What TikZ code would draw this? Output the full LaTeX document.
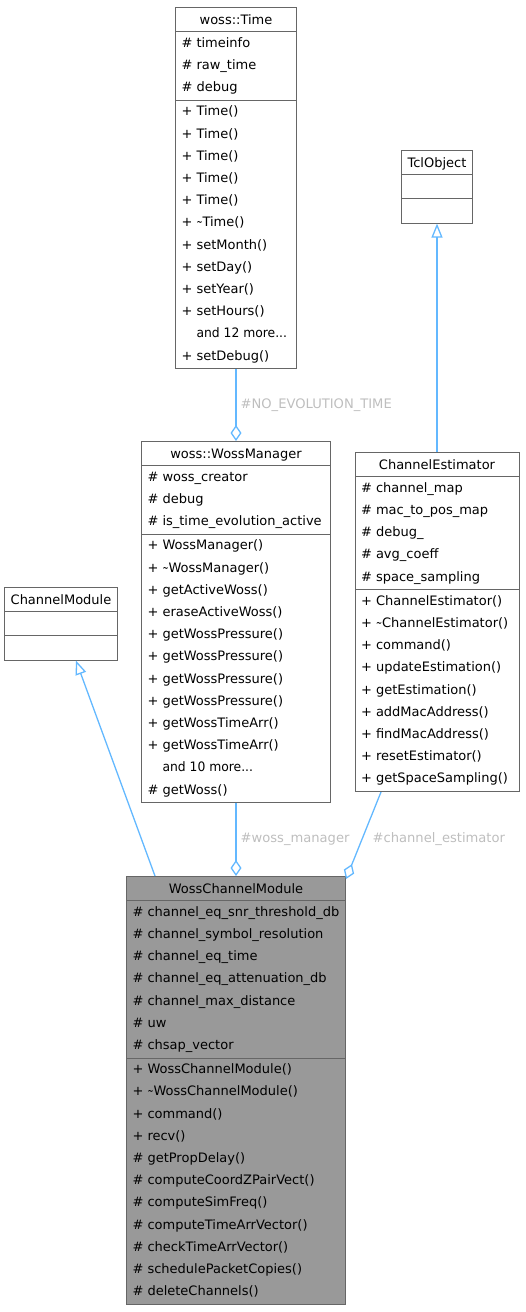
\documentclass[tikz,border=0pt]{standalone}
\usepackage{fontspec}
\usepackage{graphicx}
\setmainfont{DejaVu Sans}
\usetikzlibrary{shapes.multipart,arrows.meta}

\definecolor{edgeblue}{HTML}{63B8FF}
\definecolor{boxgray}{HTML}{666666}
\definecolor{labelgray}{HTML}{BEBEBE}
\definecolor{focusgray}{HTML}{999999}

\newcommand{\rs}{\rule[-7.7pt]{0pt}{22.2pt}}
\newcommand{\tld}{\scalebox{0.55}[1]{\textasciitilde}}
\newcommand{\prot}[1]{\rs\#~#1}
\newcommand{\publ}[1]{\rs+~#1}
\newcommand{\more}[1]{\rs\phantom{+}~\scalebox{0.95}[1]{#1}}

\tikzset{
  cls/.style={draw=boxgray, line width=1pt, fill=white, rectangle split,
    rectangle split parts=3, rectangle split part align={center,left,left},
    align=left, anchor=north, inner xsep=6pt, inner ysep=0.5pt,
    font=\fontsize{13}{22.2}\selectfont},
  inherit/.style={draw=edgeblue, line width=1.3pt, -{Triangle[open, length=14pt, width=11pt]}},
  member/.style={draw=edgeblue, line width=1.3pt, -{Diamond[open, length=16pt, width=11pt]}},
  role/.style={text=labelgray, font=\fontsize{13.1}{16}\selectfont, inner sep=0pt, anchor=west},
}

\begin{document}
\begin{tikzpicture}[x=1pt, y=1pt]
  \useasboundingbox (0,0) rectangle (525,-1312);

  \node[cls, minimum width=121pt] (time) at (236,-7) {\strut woss::Time
    \nodepart{second}\prot{timeinfo}\\\prot{raw\_time}\\\prot{debug}
    \nodepart{third}\publ{Time()}\\\publ{Time()}\\\publ{Time()}\\\publ{Time()}\\\publ{Time()}\\
      \publ{\tld Time()}\\\publ{setMonth()}\\\publ{setDay()}\\\publ{setYear()}\\
      \publ{setHours()}\\\more{and 12 more...}\\\publ{setDebug()}};

  \node[cls, minimum width=70pt] (tcl) at (437,-150) {\strut TclObject
    \nodepart{second}\rs
    \nodepart{third}\rs};

  \node[cls, minimum width=189pt] (wm) at (236,-441) {\strut woss::WossManager
    \nodepart{second}\prot{woss\_creator}\\\prot{debug}\\\prot{is\_time\_evolution\_active}
    \nodepart{third}\publ{WossManager()}\\\publ{\tld WossManager()}\\\publ{getActiveWoss()}\\
      \publ{eraseActiveWoss()}\\\publ{getWossPressure()}\\\publ{getWossPressure()}\\
      \publ{getWossPressure()}\\\publ{getWossPressure()}\\\publ{getWossTimeArr()}\\
      \publ{getWossTimeArr()}\\\more{and 10 more...}\\\prot{getWoss()}};

  \node[cls, minimum width=164pt] (ce) at (437,-452) {\strut ChannelEstimator
    \nodepart{second}\prot{channel\_map}\\\prot{mac\_to\_pos\_map}\\\prot{debug\_}\\
      \prot{avg\_coeff}\\\prot{space\_sampling}
    \nodepart{third}\publ{ChannelEstimator()}\\\publ{\tld ChannelEstimator()}\\
      \publ{command()}\\\publ{updateEstimation()}\\\publ{getEstimation()}\\
      \publ{addMacAddress()}\\\publ{findMacAddress()}\\\publ{resetEstimator()}\\
      \publ{getSpaceSampling()}};

  \node[cls, minimum width=112pt] (cm) at (61,-587) {\strut ChannelModule
    \nodepart{second}\rs
    \nodepart{third}\rs};

  \node[cls, fill=focusgray, minimum width=219pt] (wcm) at (236,-876) {\strut WossChannelModule
    \nodepart{second}\prot{channel\_eq\_snr\_threshold\_db}\\\prot{channel\_symbol\_resolution}\\
      \prot{channel\_eq\_time}\\\prot{channel\_eq\_attenuation\_db}\\
      \prot{channel\_max\_distance}\\\prot{uw}\\\prot{chsap\_vector}
    \nodepart{third}\publ{WossChannelModule()}\\\publ{\tld WossChannelModule()}\\
      \publ{command()}\\\publ{recv()}\\\prot{getPropDelay()}\\\prot{computeCoordZPairVect()}\\
      \prot{computeSimFreq()}\\\prot{computeTimeArrVector()}\\\prot{checkTimeArrVector()}\\
      \prot{schedulePacketCopies()}\\\prot{deleteChannels()}};

  \draw[inherit] (ce) -- (tcl);
  \draw[inherit] ([xshift=-81pt]wcm.north) -- ([xshift=15pt]cm.south);
  \draw[member] (time) -- node[role, xshift=4pt] {\#NO\_EVOLUTION\_TIME} (wm);
  \draw[member] (wm) -- node[role, xshift=4pt] {\#woss\_manager} (wcm);
  \draw[member] ([xshift=-56pt]ce.south) -- node[role, xshift=8.5pt, yshift=-3.5pt] {\#channel\_estimator} ([yshift=-3pt]wcm.north east);
\end{tikzpicture}
\end{document}
